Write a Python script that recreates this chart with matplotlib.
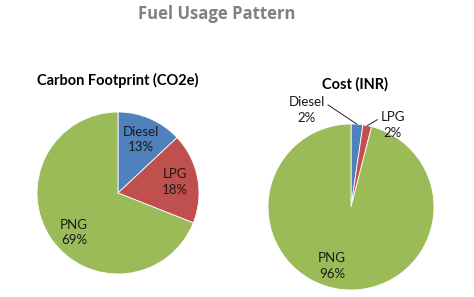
import matplotlib
matplotlib.use("Agg")
import matplotlib.pyplot as plt
import numpy as np

plt.rcParams['font.family'] = ['Lato', 'DejaVu Sans']

# Data
fuels = ["Diesel", "LPG", "PNG"]
carbon_share = [13, 18, 69]
cost_share = [2.3, 1.7, 96]
colors = ["#4F81BD", "#C0504D", "#9BBB59"]

W, H = 474, 297
fig = plt.figure(figsize=(W / 100, H / 100), dpi=100)
fig.patch.set_facecolor("white")


def pie_axes(cx, cy, r, lim=1.2):
    size = 2 * lim * r
    ax = fig.add_axes([(cx - size / 2) / W, (H - cy - size / 2) / H, size / W, size / H])
    return ax


def labels_for(values):
    total = sum(values)
    return [f"{n}\n{v / total * 100:.0f}%" for n, v in zip(fuels, values)]


# Left pie: carbon footprint
ax1 = pie_axes(118, 193, 81)
wedges, texts = ax1.pie(carbon_share, colors=colors, startangle=90, counterclock=False,
                        labels=labels_for(carbon_share), labeldistance=0.72,
                        wedgeprops=dict(linewidth=0.6, edgecolor="white"),
                        textprops=dict(fontsize=9.5, color="#1a1a1a", linespacing=1.35))
for t in texts:
    t.set_ha("center")
    t.set_va("center")
# nudge PNG label a bit like the original
x, y = texts[2].get_position()
texts[2].set_position((x + 0.05, y - 0.08))
ax1.set_xlim(-1.2, 1.2)
ax1.set_ylim(-1.2, 1.2)
ax1.set_aspect("equal")
ax1.axis("off")

# Right pie: cost
ax2 = pie_axes(351, 207, 83)
wedges2, _ = ax2.pie(cost_share, colors=colors, startangle=90, counterclock=False,
                     wedgeprops=dict(linewidth=0.6, edgecolor="white"))
ax2.set_xlim(-1.2, 1.2)
ax2.set_ylim(-1.2, 1.2)
ax2.set_aspect("equal")
ax2.axis("off")

cost_labels = labels_for(cost_share)
# label placement for the right pie (axes-relative offsets)
text_pos = [(-0.53, 1.17), (0.5, 0.99), (-0.23, -0.71)]
rel = [(1.0, 0.75), (0.0, 0.75), None]
for w, lab, pos, rp in zip(wedges2, cost_labels, text_pos, rel):
    ang = np.deg2rad((w.theta1 + w.theta2) / 2)
    edge = (np.cos(ang), np.sin(ang))
    if rp is None:
        ax2.text(pos[0], pos[1], lab, ha="center", va="center", fontsize=9.5,
                 color="#1a1a1a", linespacing=1.35)
    else:
        ax2.annotate(lab, xy=edge, xytext=pos, ha="center", va="center",
                     fontsize=9.5, color="#1a1a1a", linespacing=1.35,
                     arrowprops=dict(arrowstyle="-", color="#222222", lw=0.7,
                                     relpos=rp, shrinkA=0, shrinkB=0))

# Titles
fig.text(217 / W, 1 - 14 / H, "Fuel Usage Pattern", ha="center", va="center",
         fontsize=12, fontweight="bold", color="#808080", family="Open Sans")
fig.text(118 / W, 1 - 80 / H, "Carbon Footprint (CO2e)", ha="center", va="center",
         fontsize=10.5, fontweight="bold", color="black")
fig.text(355 / W, 1 - 84 / H, "Cost (INR)", ha="center", va="center",
         fontsize=10.5, fontweight="bold", color="black")

fig.savefig("out.png", dpi=100)
